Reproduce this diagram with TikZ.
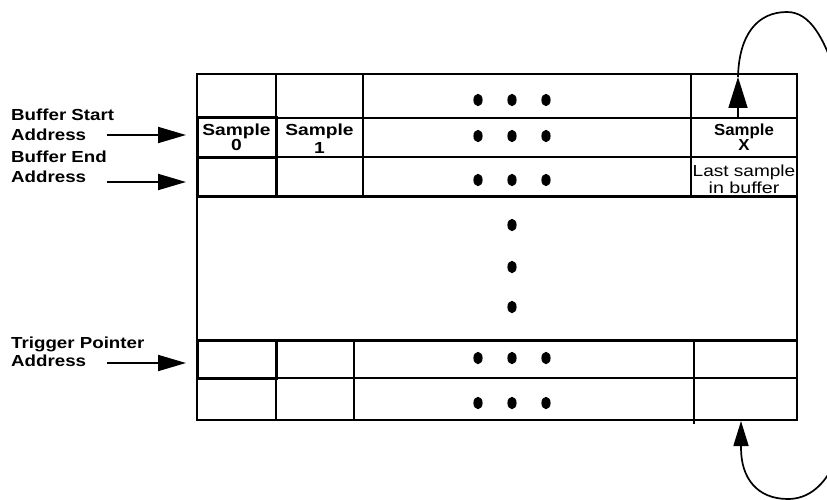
\documentclass[tikz,border=0pt]{standalone}
\usepackage{graphicx}
\usepackage{fontspec}
\setmainfont{Liberation Sans}
\usetikzlibrary{arrows.meta}
% horizontally widened text
\newcommand{\hs}[2]{\scalebox{#1}[1]{#2}}
\begin{document}
\begin{tikzpicture}[x=1pt,y=-1pt,
  grid/.style={line width=1.6pt},
  heavy/.style={line width=3pt},
  lbl/.style={anchor=base west, inner sep=0pt, font=\bfseries\fontsize{16}{18}\selectfont},
  celltext/.style={anchor=base, inner sep=0pt, font=\bfseries\fontsize{16}{18}\selectfont},
  note/.style={anchor=base, inner sep=0pt, font=\fontsize{16}{18}\selectfont},
  ptr/.style={line width=2pt, -{Triangle[length=28pt,width=16pt]}},
  loop/.style={line width=1.7pt},
  dot/.style={x radius=4.6, y radius=6.2}
]
\useasboundingbox (0,0) rectangle (827,500);
\clip (0,0) rectangle (827,500);

% buffer memory grid
\draw[grid] (197,74) rectangle (797,420);
\draw[grid] (197,118) -- (797,118);
\draw[grid] (197,157) -- (797,157);
\draw[heavy] (197,196) -- (797,196);
\draw[heavy] (197,340) -- (797,340);
\draw[grid] (197,378) -- (797,378);
\foreach \cx in {276,363} \draw[grid] (\cx,74) -- (\cx,196);
\draw[grid] (691,74) -- (691,198);
\foreach \cx in {276,354} \draw[grid] (\cx,340) -- (\cx,420);
\draw[grid] (694,340) -- (694,424);

% marked cells
\draw[heavy] (197,118) rectangle (276,157);
\draw[heavy] (197,157) rectangle (276,196);
\draw[heavy] (197,340) rectangle (276,378);

% ellipsis dots
\foreach \ry in {100,136,180,358,403}
  \foreach \rx in {478,512,546}
    \fill (\rx,\ry) ellipse [dot];
\foreach \ry in {225,267,307}
  \fill (512,\ry) ellipse [dot];

% cell contents
\node[celltext] (s0a) at (236.5,135.7) {\hs{1.2}{Sample}};
\node[celltext] (s0b) at (236.5,150.5) {\hs{1.2}{0}};
\node[celltext] (s1a) at (319.5,135.7) {\hs{1.2}{Sample}};
\node[celltext] (s1b) at (319.5,153.5) {\hs{1.2}{1}};
\node[celltext] (sxa) at (744,135.7) {\hs{1.05}{Sample}};
\node[celltext] (sxb) at (744,150.5) {\hs{1.05}{X}};
\node[note] (lsa) at (744,176.8) {\hs{1.19}{Last sample}};
\node[note] (lsb) at (744,193.5) {\hs{1.23}{in buffer}};

% pointer labels
\node[lbl] (bsa) at (11,120.7) {\hs{1.17}{Buffer Start}};
\node[lbl] (bsb) at (11,140) {\hs{1.17}{Address}};
\node[lbl] (bea) at (11,162) {\hs{1.17}{Buffer End}};
\node[lbl] (beb) at (11,182.5) {\hs{1.17}{Address}};
\node[lbl] (tpa) at (11,348) {\hs{1.17}{Trigger Pointer}};
\node[lbl] (tpb) at (11,366.7) {\hs{1.17}{Address}};

% pointer arrows
\coordinate (bsF) at (107,135);  \coordinate (bsT) at (186,135);
\coordinate (beF) at (107,182);  \coordinate (beT) at (186,182);
\coordinate (tpF) at (107,363);  \coordinate (tpT) at (186,363);
\draw[ptr] (bsF) -- (bsT);
\draw[ptr] (beF) -- (beT);
\draw[ptr] (tpF) -- (tpT);

% wrap-around loop, top
\coordinate (xtop) at (738,118);
\coordinate (xtip) at (738,77);
\coordinate (loopA) at (836,75);
\draw[loop, -{Triangle[length=31pt,width=19pt]}] (xtop) -- (xtip);
\draw[loop] (xtip) .. controls (739,35) and (757,12) .. (787,12)
  .. controls (810,12) and (824,38) .. (loopA);

% wrap-around loop, bottom
\coordinate (xbot) at (741,421);
\coordinate (loopB) at (838,455);
\draw[loop, -{Triangle[length=25pt,width=15pt]}] (loopB)
  .. controls (826,486) and (808,499) .. (788,499)
  .. controls (757,499) and (741,478) .. (741,448) -- (xbot);
\end{tikzpicture}
\end{document}
